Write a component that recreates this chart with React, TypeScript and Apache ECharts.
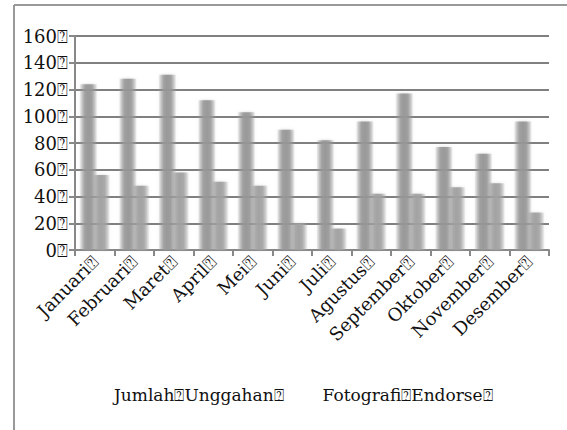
import React, { useEffect, useRef } from "react";
import * as echarts from "echarts";

const BOX = "\u2370";
const months = ["Januari", "Februari", "Maret", "April", "Mei", "Juni", "Juli", "Agustus", "September", "Oktober", "November", "Desember"];
const seriesNames = ["Jumlah" + BOX + "Unggahan" + BOX, "Fotografi" + BOX + "Endorse" + BOX];
const jumlahUnggahan = [124, 128, 131, 112, 103, 90, 82, 96, 117, 77, 72, 96];
const fotografiEndorse = [56, 48, 58, 51, 48, 20, 16, 42, 42, 47, 50, 28];
const yTicks = [0, 20, 40, 60, 80, 100, 120, 140, 160];

const FONT = "DejaVu Serif";

function barGrad(a: number) {
  return new echarts.graphic.LinearGradient(0, 0, 1, 0, [
    { offset: 0, color: `rgba(${a},${a},${a},0.1)` },
    { offset: 0.3, color: `rgba(${a},${a},${a},0.85)` },
    { offset: 0.5, color: `rgba(${a},${a},${a},0.95)` },
    { offset: 0.7, color: `rgba(${a},${a},${a},0.85)` },
    { offset: 1, color: `rgba(${a},${a},${a},0.1)` },
  ]);
}

export default function App() {
  const ref = useRef<HTMLDivElement>(null);
  useEffect(() => {
    document.body.style.margin = "0";
    const chart = echarts.init(ref.current!, null, { renderer: "svg" });
    chart.setOption({
      animation: false,
      backgroundColor: "#ffffff",
      grid: { left: 75, right: 18, top: 36, bottom: 180 },
      graphic: [
        { type: "line", shape: { x1: 14, y1: 5, x2: 567, y2: 5 }, style: { stroke: "#999", lineWidth: 2 } },
        { type: "line", shape: { x1: 14, y1: 5, x2: 14, y2: 430 }, style: { stroke: "#999", lineWidth: 2 } },
      ],
      legend: {
        data: seriesNames,
        bottom: 22,
        left: 104,
        itemGap: 34,
        itemWidth: 0,
        itemHeight: 0,
        icon: "rect",
        textStyle: { fontFamily: FONT, fontSize: 17, color: "#111" },
      },
      xAxis: {
        type: "category",
        data: months.map((m) => m + BOX),
        axisLine: { lineStyle: { color: "#888", width: 2 } },
        axisTick: { show: true, length: 6, lineStyle: { color: "#888", width: 2 } },
        axisLabel: { rotate: 45, fontFamily: FONT, fontSize: 18, color: "#111", margin: 9, interval: 0 },
      },
      yAxis: {
        type: "value",
        min: 0,
        max: 160,
        interval: 20,
        axisLine: { show: true, lineStyle: { color: "#888", width: 2 } },
        axisTick: { show: true, length: 6, lineStyle: { color: "#888", width: 2 } },
        splitLine: { lineStyle: { color: "#808080", width: 2 } },
        axisLabel: {
          fontFamily: FONT,
          fontSize: 18,
          color: "#111",
          margin: 7,
          formatter: (v: number) => (yTicks.includes(v) ? v + BOX : ""),
        },
      },
      series: [
        {
          name: seriesNames[0],
          type: "bar",
          data: jumlahUnggahan,
          barWidth: 17,
          barGap: "-25%",
          itemStyle: { color: barGrad(150), shadowBlur: 3, shadowColor: "rgba(160,160,160,0.5)" },
        },
        {
          name: seriesNames[1],
          type: "bar",
          data: fotografiEndorse,
          barWidth: 17,
          itemStyle: { color: barGrad(160), shadowBlur: 3, shadowColor: "rgba(170,170,170,0.5)" },
        },
      ],
    });
    return () => chart.dispose();
  }, []);
  return <div ref={ref} style={{ position: "absolute", left: 0, top: 0, width: 567, height: 430 }} />;
}
